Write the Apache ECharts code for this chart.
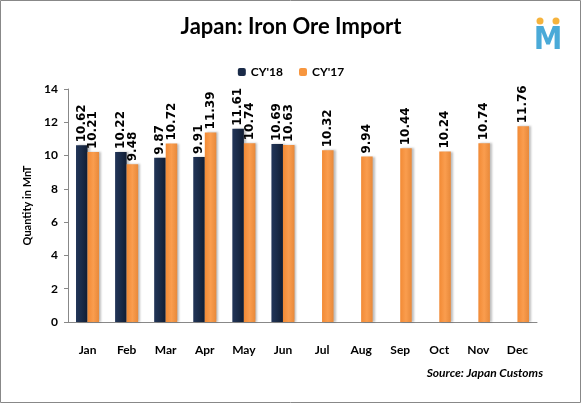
<!DOCTYPE html>
<html><head><meta charset="utf-8">
<script src="https://cdn.jsdelivr.net/npm/echarts@6/dist/echarts.min.js"></script>
<style>html,body{margin:0;padding:0;background:#fff}#c{width:582px;height:404px}</style>
</head><body><div id="c"></div>
<script>
const months = ['Jan','Feb','Mar','Apr','May','Jun','Jul','Aug','Sep','Oct','Nov','Dec'];
const cy18 = [10.62,10.22,9.87,9.91,11.61,10.69,null,null,null,null,null,null];
const cy17 = [10.21,9.48,10.72,11.39,10.74,10.63,10.32,9.94,10.44,10.24,10.74,11.76];
const yTicks = [0,2,4,6,8,10,12,14];

const font = 'Lato, "Open Sans", sans-serif';
const chart = echarts.init(document.getElementById('c'));
const navy = new echarts.graphic.LinearGradient(0,0,1,0,[{offset:0,color:'#223558'},{offset:0.5,color:'#1a2b48'},{offset:1,color:'#111d33'}]);
const orange = new echarts.graphic.LinearGradient(0,0,1,0,[{offset:0,color:'#f28a35'},{offset:0.5,color:'#fa9d4e'},{offset:1,color:'#e8893a'}]);
const lbl = {show:true, position:'top', rotate:90, align:'left', verticalAlign:'middle', distance:3,
  fontFamily:'"DejaVu Sans", sans-serif', fontWeight:'bold', fontSize:12, color:'#000', formatter:p=>p.value==null?'':p.value.toFixed(2)};
chart.setOption({
  animation:false,
  title:{text:'Japan: Iron Ore Import', left:'center', top:11,
    textStyle:{fontFamily:font, fontWeight:'bold', fontSize:22, color:'#000'}},
  legend:{top:61, left:'center', itemWidth:8, itemHeight:8, itemGap:16,
    textStyle:{fontFamily:font, fontWeight:'bold', fontSize:12, color:'#000'},
    data:[{name:"CY'18", itemStyle:{color:'#1a2b48'}},{name:"CY'17", itemStyle:{color:'#f7963f'}}]},
  grid:{left:68, right:45, top:89, bottom:82, containLabel:false},
  xAxis:{type:'category', data:months,
    axisLine:{lineStyle:{color:'#888'}}, axisTick:{show:false},
    axisLabel:{fontFamily:font, fontWeight:'bold', fontSize:12, color:'#000', margin:22}},
  yAxis:{type:'value', min:yTicks[0], max:yTicks[yTicks.length-1], interval:2,
    name:'Quantity in MnT', nameLocation:'middle', nameGap:31, nameRotate:90,
    nameTextStyle:{fontFamily:font, fontWeight:'bold', fontSize:11, color:'#000'},
    axisLine:{show:true, lineStyle:{color:'#888'}}, axisTick:{show:true, length:4, lineStyle:{color:'#888'}},
    splitLine:{show:false},
    axisLabel:{fontFamily:font, fontWeight:'bold', fontSize:12, color:'#000', margin:10}},
  series:[
    {name:"CY'18", type:'bar', data:cy18, barGap:'0%', barCategoryGap:'41%',
     itemStyle:{color:navy, shadowColor:'rgba(0,0,0,0.25)', shadowOffsetX:2, shadowBlur:2}, label:lbl},
    {name:"CY'17", type:'bar', data:cy17,
     itemStyle:{color:orange, shadowColor:'rgba(0,0,0,0.25)', shadowOffsetX:2, shadowBlur:2}, label:lbl}
  ],
  graphic:[
    {type:'rect', shape:{x:0.5,y:0.5,width:580,height:402}, style:{fill:'none', stroke:'#888', lineWidth:1}, silent:true},
    {type:'text', x:543, y:373, style:{text:'Source: Japan Customs', align:'right', verticalAlign:'middle',
      fontFamily:font, fontWeight:'bold', fontStyle:'italic', fontSize:12, fill:'#000'}},
    {type:'text', x:548, y:41, style:{text:'M', align:'center', verticalAlign:'middle', fontFamily:'"DejaVu Sans Condensed", "DejaVu Sans", sans-serif', fontWeight:'bold', fontSize:32, fill:'#4aaad8'}},
    {type:'circle', shape:{cx:540, cy:21, r:3.5}, style:{fill:'#f6b33c'}},
    {type:'circle', shape:{cx:556, cy:21, r:3.5}, style:{fill:'#f6b33c'}}
  ]
});
</script></body></html>
